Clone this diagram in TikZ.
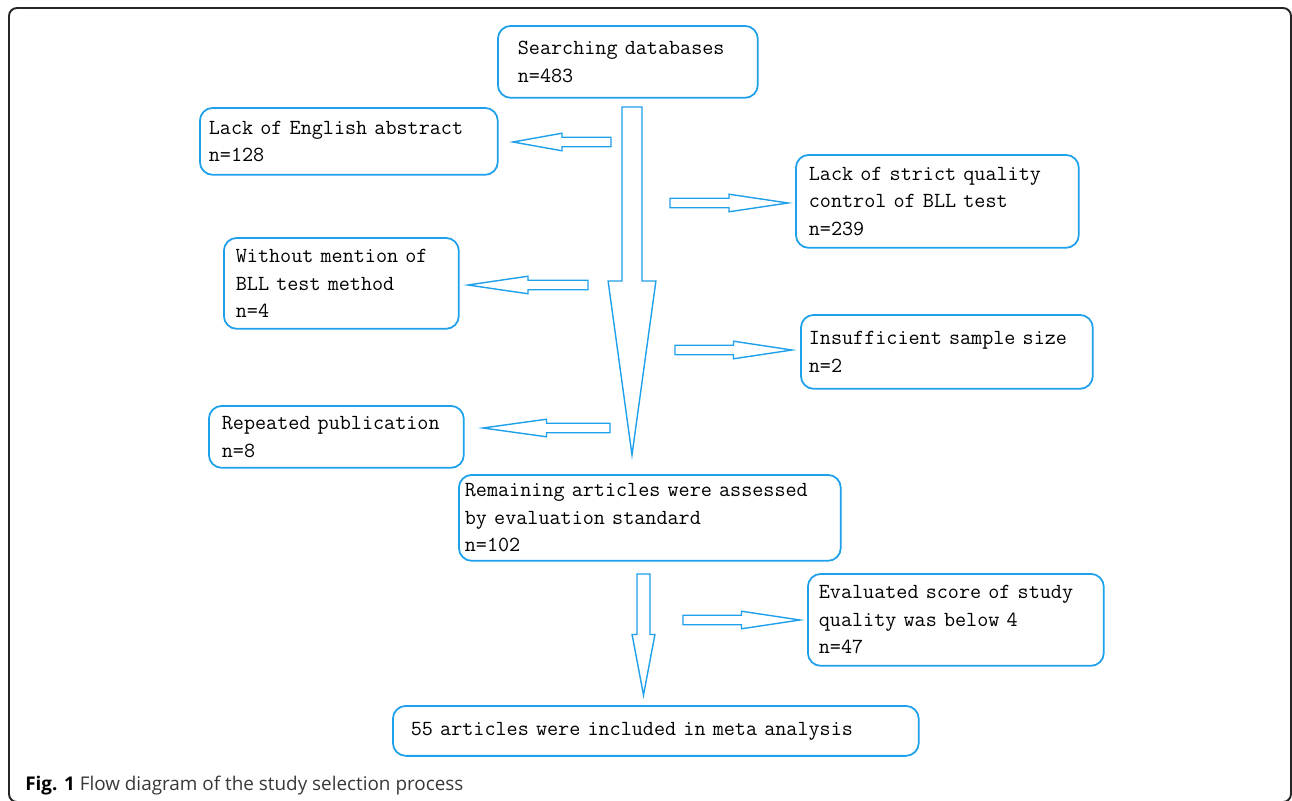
\documentclass[tikz,border=0pt]{standalone}
\usepackage{fontspec}
\usepackage{tikz}
\usetikzlibrary{calc}
\usetikzlibrary{positioning}
\newfontfamily\captionfont{Open Sans}

% Blockpfeil von #1 bis zur Spitze #2, Schaft #3, Kopf #4
\newcommand{\blockpfeil}[4]{%
  \coordinate (kopf) at ($(#1)!.5!(#2)$);
  \draw[pfeil] ($(#1)!#3!90:(#2)$) -- ($(kopf)!#3!90:(#2)$) -- ($(kopf)!#4!90:(#2)$) -- (#2)
    -- ($(kopf)!#4!-90:(#2)$) -- ($(kopf)!#3!-90:(#2)$) -- ($(#1)!#3!-90:(#2)$) -- cycle;
}

\begin{document}
\begin{tikzpicture}[x=0.02cm, y=-0.02cm,
    box/.style={draw=flowblue, line width=1pt, rounded corners=0.26cm, anchor=north west,
      align=left, inner ysep=0pt, text=black,
      font=\fontsize{12.25}{15.6}\selectfont\ttfamily},
    pfeil/.style={draw=flowblue, line width=0.8pt},
    rahmen/.style={draw=black!85, line width=1.1pt, rounded corners=0.16cm}]

    % Farben
    \definecolor{flowblue}{RGB}{30,160,235}

    % Rahmen
    \useasboundingbox (0,0) rectangle (1292,801);
    \draw[rahmen] (9,8) rectangle (1291,802);

    % Kaesten
    \node[box, minimum width=5.2cm, minimum height=1.44cm, text width=4.4cm, inner xsep=0.4cm] (suche) at (497,25) {Searching databases\\n=483};
    \node[box, minimum width=5.96cm, minimum height=1.34cm, text width=5.6cm, inner xsep=0.18cm] (englisch) at (199,107) {Lack of English abstract\\n=128};
    \node[box, minimum width=5.66cm, minimum height=1.86cm, text width=5.14cm, inner xsep=0.26cm] (qualitaet) at (795,154) {Lack of strict quality\\control of BLL test\\n=239};
    \node[box, minimum width=4.7cm, minimum height=1.82cm, text width=4.22cm, inner xsep=0.24cm] (methode) at (223,237) {Without mention of\\BLL test method\\n=4};
    \node[box, minimum width=5.84cm, minimum height=1.48cm, text width=5.52cm, inner xsep=0.16cm] (stichprobe) at (800,314) {Insufficient sample size\\n=2};
    \node[box, minimum width=5.1cm, minimum height=1.24cm, text width=4.58cm, inner xsep=0.26cm] (doppelt) at (208,405) {Repeated publication\\n=8};
    \node[box, minimum width=7.64cm, minimum height=1.72cm, text width=7.4cm, inner xsep=0.12cm] (rest) at (458,474) {Remaining articles were assessed\\by evaluation standard\\n=102};
    \node[box, minimum width=5.92cm, minimum height=1.84cm, text width=5.48cm, inner xsep=0.22cm] (score) at (807,573) {Evaluated score of study\\quality was below 4\\n=47};
    \node[box, minimum width=10.52cm, minimum height=1.0cm, text width=9.8cm, inner xsep=0.36cm] (meta) at (392,705) {55 articles were included in meta analysis};

    % Pfeilenden
    \coordinate (stamm) at (632,107);
    \coordinate (stammspitze) at (632,455);
    \coordinate (stamm2) at (643.5,574);
    \coordinate (stamm2spitze) at (643.5,695);
    \coordinate (e1) at (611,142);   \coordinate (e1s) at (513,142);
    \coordinate (q1) at (670,203);   \coordinate (q1s) at (788,203);
    \coordinate (m1) at (588,285);   \coordinate (m1s) at (468,285);
    \coordinate (s1) at (675,350);   \coordinate (s1s) at (792,350);
    \coordinate (r1) at (610,428);   \coordinate (r1s) at (483,428);
    \coordinate (v1) at (683,620);   \coordinate (v1s) at (800,620);

    % Pfeile
    \blockpfeil{stamm}{stammspitze}{5.7pt}{13.6pt}
    \blockpfeil{stamm2}{stamm2spitze}{3.7pt}{6.5pt}
    \blockpfeil{e1}{e1s}{2.7pt}{5pt}
    \blockpfeil{q1}{q1s}{2.7pt}{5pt}
    \blockpfeil{m1}{m1s}{2.7pt}{5pt}
    \blockpfeil{s1}{s1s}{2.7pt}{5pt}
    \blockpfeil{r1}{r1s}{2.7pt}{5pt}
    \blockpfeil{v1}{v1s}{2.7pt}{5pt}

    % Bildunterschrift
    \node[anchor=base west, inner sep=0pt, text=black!78, font=\captionfont\fontsize{10.75}{12}\selectfont] (titel) at (25,790) {\textbf{\color{black}Fig. 1} Flow diagram of the study selection process};

\end{tikzpicture}
\end{document}
